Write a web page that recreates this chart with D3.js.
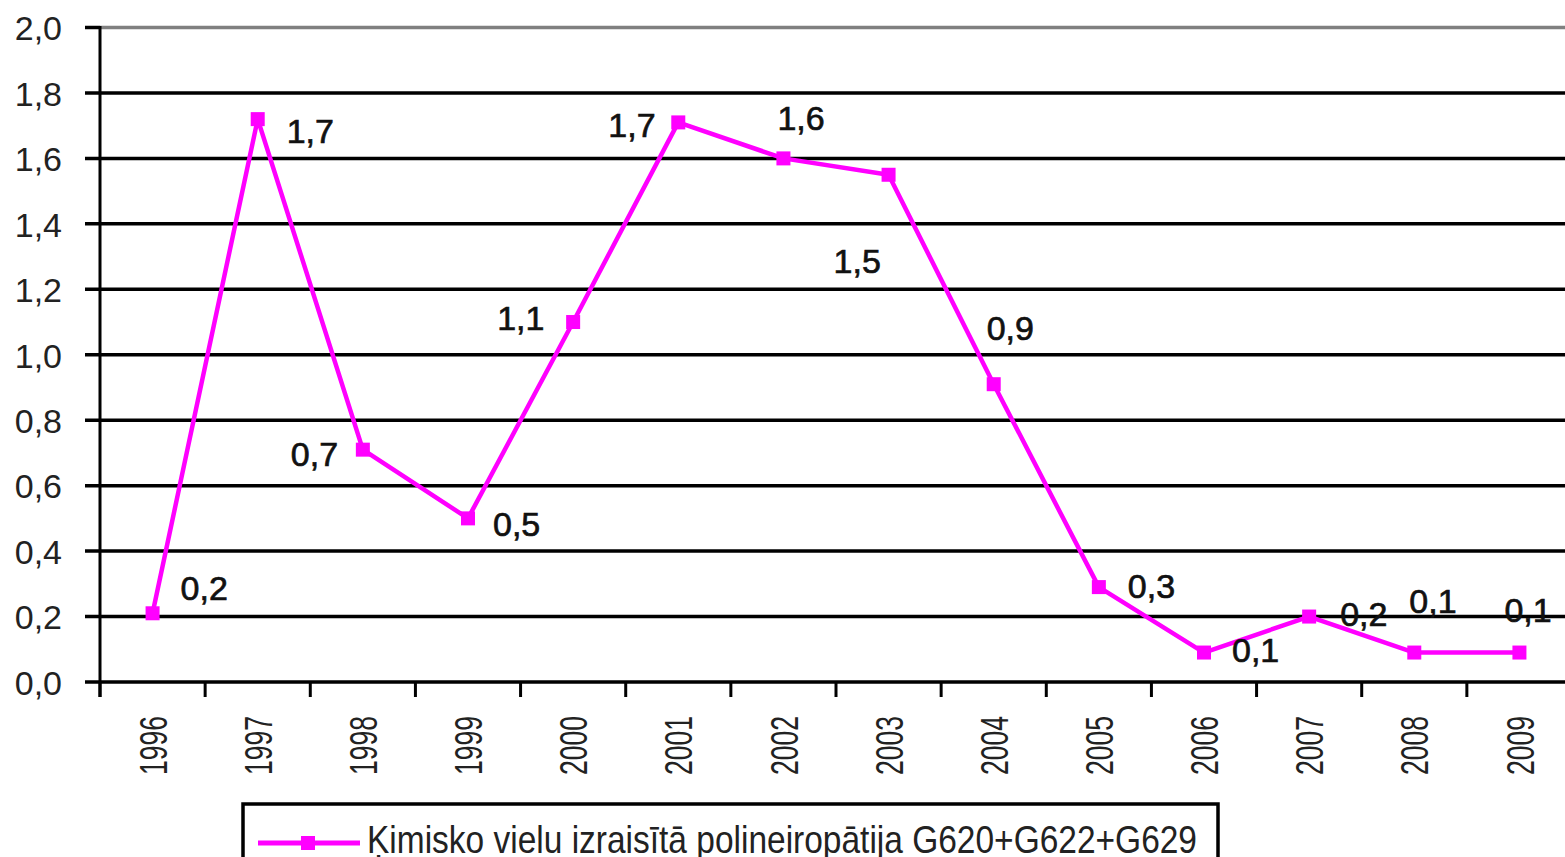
<!DOCTYPE html>
<html>
<head>
<meta charset="utf-8">
<script src="https://cdn.jsdelivr.net/npm/d3@7"></script>
<style>
  body { margin: 0; background: #fff; }
  text { font-family: "Liberation Sans", Arial, sans-serif; }
</style>
</head>
<body>
<div id="chart"></div>
<script>
// chart data
var years = ["1996", "1997", "1998", "1999", "2000", "2001", "2002", "2003", "2004", "2005", "2006", "2007", "2008", "2009"];
var values = [0.21, 1.72, 0.71, 0.5, 1.1, 1.71, 1.6, 1.55, 0.91, 0.29, 0.09, 0.2, 0.09, 0.09];
var valueLabels = ["0,2", "1,7", "0,7", "0,5", "1,1", "1,7", "1,6", "1,5", "0,9", "0,3", "0,1", "0,2", "0,1", "0,1"];
var yTicks = [0, 0.2, 0.4, 0.6, 0.8, 1.0, 1.2, 1.4, 1.6, 1.8, 2.0];
var seriesName = "Ķimisko vielu izraisītā polineiropātija G620+G622+G629";

// where each value label sits relative to its point (left edge, baseline)
var labelOffsets = [[28, -13], [29, 24], [-72, 16], [25, 18], [-76, 8], [-70, 15], [-6, -28],
                    [-55, 98], [-7, -44], [29, 11], [28, 9], [31, 9], [-5, -40], [-15, -31]];

function drawChart() {
    var width = 1565, height = 857;
    // plot area (the right side runs past the picture edge)
    var pLeft = 100, pRight = 1572, pTop = 27.5, pBottom = 682;
    var pink = "#ff00ff";

    var svg = d3.select("#chart").append("svg").attr("width", width).attr("height", height);

    var x = d3.scaleBand().domain(years).range([pLeft, pRight]);
    var y = d3.scaleLinear().domain([0, 2]).range([pBottom, pTop]);
    var fmt = function(d) { return d3.format(".1f")(d).replace(".", ","); };

    // horizontal gridlines (top one is grey, like a frame)
    svg.selectAll(".grid").data(yTicks).enter().append("line")
        .attr("x1", function(d) { return d === 2 ? pLeft : 85; })
        .attr("x2", width)
        .attr("y1", function(d) { return y(d); })
        .attr("y2", function(d) { return y(d); })
        .attr("stroke", function(d) { return d === 2 ? "#808080" : "#000"; })
        .attr("stroke-width", 3.5);
    svg.append("line").attr("x1", 85).attr("x2", pLeft).attr("y1", y(2)).attr("y2", y(2))
        .attr("stroke", "#000").attr("stroke-width", 3.5);

    // y axis
    var yAxis = svg.append("g").attr("transform", "translate(" + pLeft + ",0)")
        .call(d3.axisLeft(y).tickValues(yTicks).tickFormat(fmt).tickSize(0).tickPadding(38));
    yAxis.select(".domain").remove();
    yAxis.selectAll("text").style("font-size", "34px").attr("fill", "#222").attr("dy", "0.36em");
    svg.append("line").attr("x1", pLeft).attr("x2", pLeft).attr("y1", pTop - 1.5).attr("y2", 697)
        .attr("stroke", "#000").attr("stroke-width", 3);

    // x axis ticks at the band edges
    svg.selectAll(".xtick").data(years).enter().append("line")
        .attr("x1", function(d) { return x(d); })
        .attr("x2", function(d) { return x(d); })
        .attr("y1", pBottom).attr("y2", 697)
        .attr("stroke", "#000").attr("stroke-width", 3);

    // rotated year labels
    svg.selectAll(".year").data(years).enter().append("text")
        .attr("transform", function(d) {
            return "translate(" + (x(d) + x.bandwidth() / 2) + ",716) rotate(-90) scale(0.78,1.15)";
        })
        .attr("text-anchor", "end")
        .attr("dy", "0.36em")
        .style("font-size", "34px")
        .attr("fill", "#222")
        .text(function(d) { return d; });

    // the series line
    var line = d3.line()
        .x(function(d, i) { return x(years[i]) + x.bandwidth() / 2; })
        .y(function(d) { return y(d); });
    svg.append("path").datum(values)
        .attr("d", line)
        .attr("fill", "none")
        .attr("stroke", pink)
        .attr("stroke-width", 4.5)
        .attr("stroke-linejoin", "round");

    // markers
    var ms = 14;
    svg.selectAll(".marker").data(values).enter().append("rect")
        .attr("x", function(d, i) { return x(years[i]) + x.bandwidth() / 2 - ms / 2; })
        .attr("y", function(d) { return y(d) - ms / 2; })
        .attr("width", ms).attr("height", ms)
        .attr("fill", pink);

    // value labels
    svg.selectAll(".vlabel").data(values).enter().append("text")
        .attr("x", function(d, i) { return x(years[i]) + x.bandwidth() / 2 + labelOffsets[i][0]; })
        .attr("y", function(d, i) { return y(d) + labelOffsets[i][1]; })
        .style("font-size", "34px")
        .attr("fill", "#111")
        .attr("stroke", "#111")
        .attr("stroke-width", 0.7)
        .text(function(d, i) { return valueLabels[i]; });

    // legend
    var legend = svg.append("g");
    legend.append("rect").attr("x", 243).attr("y", 804).attr("width", 975).attr("height", 90)
        .attr("fill", "none").attr("stroke", "#000").attr("stroke-width", 3.5);
    legend.append("line").attr("x1", 258).attr("x2", 360).attr("y1", 843).attr("y2", 843)
        .attr("stroke", pink).attr("stroke-width", 5);
    legend.append("rect").attr("x", 308 - ms / 2).attr("y", 843 - ms / 2).attr("width", ms).attr("height", ms)
        .attr("fill", pink);
    legend.append("text")
        .attr("transform", "translate(367,853) scale(1,1.15)")
        .attr("textLength", 830)
        .attr("lengthAdjust", "spacingAndGlyphs")
        .style("font-size", "34px")
        .attr("fill", "#222")
        .text(seriesName);
}

drawChart();
</script>
</body>
</html>
